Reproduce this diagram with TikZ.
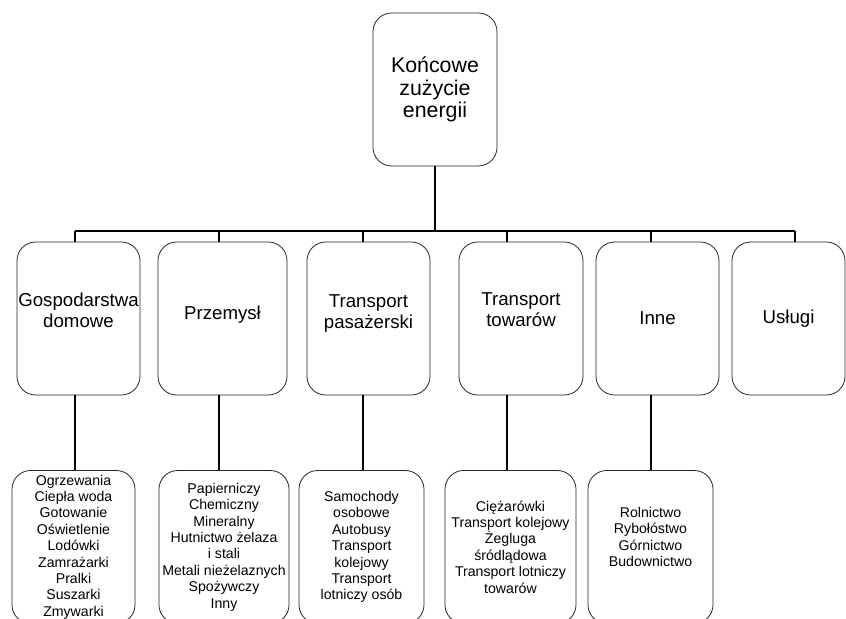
\documentclass[tikz,border=0pt]{standalone}
\usepackage{fontspec}
\setmainfont{Liberation Sans}
\usepackage{tikz}

\tikzset{
  box/.style={draw=black!85, line width=0.6pt, rounded corners=14pt, inner sep=0pt,
    align=center, minimum height=114.75pt},
  mid/.style={box, font=\fontsize{14}{15.5}\selectfont},
  leaf/.style={box, font=\fontsize{10.6}{12.3}\selectfont},
  link/.style={line width=1.2pt},
}

\begin{document}
\begin{tikzpicture}[x=0.75pt, y=-0.75pt]
\clip (0,0) rectangle (846,618);
% Root
\node[box, minimum width=93pt, font=\fontsize{16}{17}\selectfont] (root) at (435,89.5) {Końcowe\\zużycie\\energii};
% Sectors
\node[mid, minimum width=92.25pt, text depth=12pt] (m1) at (78.5,318.5) {Gospodarstwa\\domowe};
\node[mid, minimum width=96.75pt, text depth=9pt] (m2) at (222.5,318.5) {Przemysł};
\node[mid, minimum width=92.25pt, text depth=10pt] (m3) at (368.5,318.5) {Transport\\pasażerski};
\node[mid, minimum width=93pt, text depth=13.5pt] (m4) at (521,318.5) {Transport\\towarów};
\node[mid, minimum width=92.25pt] (m5) at (657.5,318.5) {Inne};
\node[mid, minimum width=84.75pt] (m6) at (788.5,318.5) {Usługi};
% Sub-sectors (cut off at the bottom)
\node[leaf, minimum width=92.25pt] (l1) at (73.5,547) {Ogrzewania\\Ciepła woda\\Gotowanie\\Oświetlenie\\Lodówki\\Zamrażarki\\Pralki\\Suszarki\\Zmywarki};
\node[leaf, minimum width=97.5pt] (l2) at (224,547) {Papierniczy\\Chemiczny\\Mineralny\\Hutnictwo żelaza\\i stali\\Metali nieżelaznych\\Spożywczy\\Inny};
\node[leaf, minimum width=93.75pt] (l3) at (361.5,547) {Samochody\\osobowe\\Autobusy\\Transport\\kolejowy\\Transport\\lotniczy osób};
\node[leaf, minimum width=98.25pt] (l4) at (510.5,547) {Ciężarówki\\Transport kolejowy\\Żegluga\\śródlądowa\\Transport lotniczy\\towarów};
\node[leaf, minimum width=93.75pt, text depth=15pt] (l5) at (650.5,547) {Rolnictwo\\Rybołóstwo\\Górnictwo\\Budownictwo};
% Tree lines
\coordinate (bus) at (0,231);
\foreach \i in {1,...,6}
  \coordinate (c\i) at (75+144*\i-144,0);
\draw[link] (root.south) -- (root.south |- bus);
\draw[link] (c1 |- bus) -- (c6 |- bus);
\foreach \i in {1,...,6}
  \draw[link] (c\i |- bus) -- (c\i |- m\i.north);
\foreach \i in {1,...,5}
  \draw[link] (c\i |- m\i.south) -- (c\i |- l\i.north);
\end{tikzpicture}
\end{document}
